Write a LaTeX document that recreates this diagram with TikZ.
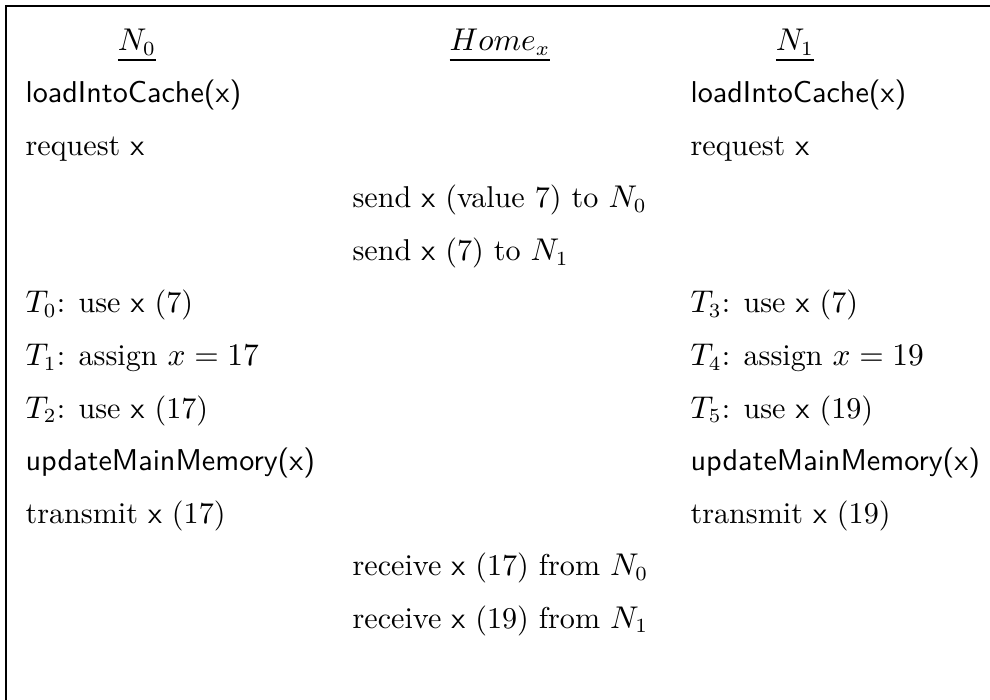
\documentclass[tikz,border=0pt]{standalone}
\usepackage{amsmath,amssymb}
\usepackage{tikz}

\tikzset{
  cell/.style={anchor=base west, inner sep=0pt, font=\fontsize{10.5}{12.6}\selectfont},
  head/.style={anchor=base, inner sep=0pt, font=\fontsize{10.5}{12.6}\selectfont}
}
\newcommand{\vx}{\textsf{x}}

\begin{document}
\begin{tikzpicture}[x=0.3484pt,y=0.3484pt,yscale=-1,xscale=1]
\useasboundingbox (0,0) rectangle (990,700);

%Straight Lines [frame]
\draw [line width=0.9pt]  (6,700) -- (6,6) -- (990,6) ;

% Text Node
\node (hN0) at (137,51) [head] {$\underline{N_0}$};
% Text Node
\node (hHome) at (500,51) [head] {$\underline{Home_x}$};
% Text Node
\node (hN1) at (795,51) [head] {$\underline{N_1}$};

% Text Node
\node (aLoad) at (25,103) [cell] {\textsf{loadIntoCache(x)}};
% Text Node
\node (cLoad) at (690,103) [cell] {\textsf{loadIntoCache(x)}};
% Text Node
\node (aReq) at (25,155.5) [cell] {request \vx};
% Text Node
\node (cReq) at (690,155.5) [cell] {request \vx};
% Text Node
\node (bSend0) at (352,208) [cell] {send \vx{} (value 7) to $N_0$};
% Text Node
\node (bSend1) at (352,260.5) [cell] {send \vx{} (7) to $N_1$};
% Text Node
\node (aT0) at (25,313) [cell] {$T_0$: use \vx{} (7)};
% Text Node
\node (cT3) at (690,313) [cell] {$T_3$: use \vx{} (7)};
% Text Node
\node (aT1) at (25,365.5) [cell] {$T_1$: assign $x=17$};
% Text Node
\node (cT4) at (690,365.5) [cell] {$T_4$: assign $x=19$};
% Text Node
\node (aT2) at (25,418) [cell] {$T_2$: use \vx{} (17)};
% Text Node
\node (cT5) at (690,418) [cell] {$T_5$: use \vx{} (19)};
% Text Node
\node (aUpd) at (25,470.5) [cell] {\textsf{updateMainMemory(x)}};
% Text Node
\node (cUpd) at (690,470.5) [cell] {\textsf{updateMainMemory(x)}};
% Text Node
\node (aTr) at (25,523) [cell] {transmit \vx{} (17)};
% Text Node
\node (cTr) at (690,523) [cell] {transmit \vx{} (19)};
% Text Node
\node (bRcv0) at (352,575.5) [cell] {receive \vx{} (17) from $N_0$};
% Text Node
\node (bRcv1) at (352,628) [cell] {receive \vx{} (19) from $N_1$};

\end{tikzpicture}
\end{document}
